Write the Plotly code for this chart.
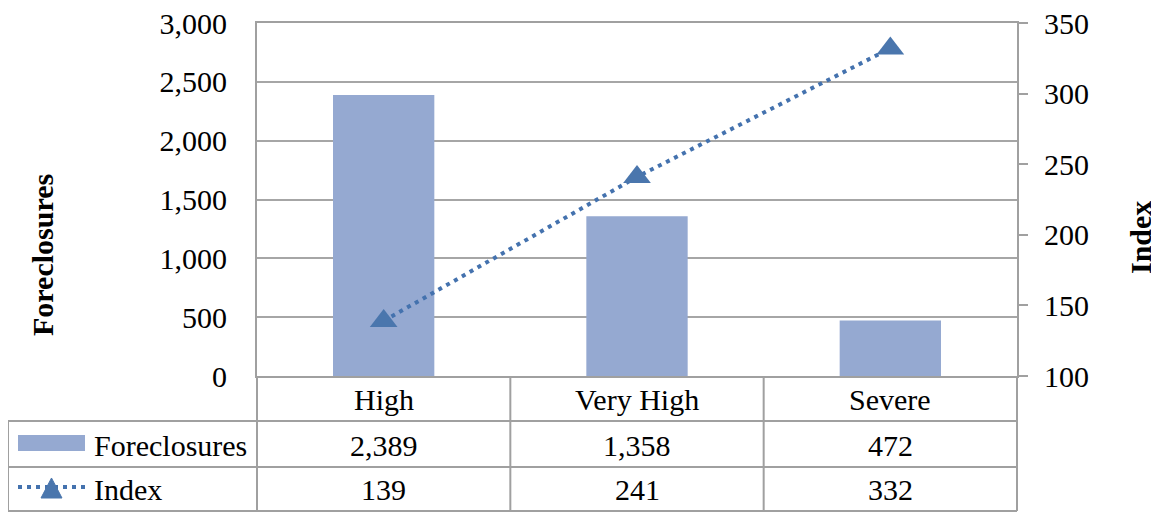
import plotly.graph_objects as go

categories = ["High", "Very High", "Severe"]
foreclosures = [2389, 1358, 472]
index_vals = [139, 241, 332]
y1_ticks = [0, 500, 1000, 1500, 2000, 2500, 3000]
y2_ticks = [100, 150, 200, 250, 300, 350]

FONT = "Liberation Serif"
FS = 30
GRID = "#A6A6A6"
TBL = "#A0A0A0"
BAR = "#95A9D1"
LINE = "#4472AE"
MARK = "#4A76AD"

OFF = 8  # page body margin
W, H = 1159 - OFF, 512 - OFF
# plot area in window pixels: x 257..1017, y 23..376
L = 257 - OFF
T = 23 - OFF
R = W - (1017 - OFF)
B = H - (376 - OFF)
pw, ph = W - L - R, H - T - B


def px(x):
    return (x - OFF - L) / pw


def py(y):
    return (H - B - (y - OFF)) / ph


fig = go.Figure()
fig.add_trace(go.Bar(x=categories, y=foreclosures, marker_color=BAR,
                     marker_line_width=0, width=0.4, name="Foreclosures",
                     yaxis="y"))
fig.add_trace(go.Scatter(x=categories, y=index_vals, yaxis="y2", mode="lines+markers",
                         line=dict(color=LINE, width=4, dash="4px,5px"),
                         marker=dict(symbol="triangle-up", size=24, color=MARK),
                         name="Index", cliponaxis=False))

shapes = []
for yy in [421, 467, 511]:
    shapes.append(dict(type="line", xref="paper", yref="paper", x0=px(8), x1=1,
                       y0=py(yy), y1=py(yy), line=dict(color=TBL, width=2)))
shapes.append(dict(type="line", xref="paper", yref="paper", x0=px(8), x1=px(8),
                   y0=py(421), y1=py(511), line=dict(color=TBL, width=2)))
for xx in [0, 1]:
    shapes.append(dict(type="line", xref="paper", yref="paper", x0=xx, x1=xx,
                       y0=0, y1=py(511), line=dict(color=TBL, width=2)))
for xv in [0.5, 1.5]:
    shapes.append(dict(type="line", xref="x", yref="paper", x0=xv, x1=xv,
                       y0=0, y1=py(511), line=dict(color=TBL, width=2)))

tf = dict(family=FONT, size=FS, color="black")
annotations = []


def ann(**kw):
    d = dict(showarrow=False, font=tf, xanchor="center", yanchor="middle")
    d.update(kw)
    annotations.append(d)


for i, c in enumerate(categories):
    ann(x=c, xref="x", y=py(399), yref="paper", text=c)
    ann(x=c, xref="x", y=py(445), yref="paper", text=f"{foreclosures[i]:,}")
    ann(x=c, xref="x", y=py(489), yref="paper", text=f"{index_vals[i]:,}")
ann(x=px(92), y=py(445), xref="paper", yref="paper", text="Foreclosures", xanchor="left")
ann(x=px(92), y=py(489), xref="paper", yref="paper", text="Index", xanchor="left")
ann(x=px(42), y=py(255), xref="paper", yref="paper", text="<b>Foreclosures</b>", textangle=-90)
ann(x=px(1140), y=py(238), xref="paper", yref="paper", text="<b>Index</b>", textangle=-90)

# legend keys in the data table
shapes.append(dict(type="rect", xref="paper", yref="paper", x0=px(18), x1=px(85),
                   y0=py(451), y1=py(435), fillcolor=BAR, line=dict(width=0)))
shapes.append(dict(type="line", xref="paper", yref="paper", x0=px(18), x1=px(85),
                   y0=py(487), y1=py(487), line=dict(color=LINE, width=4, dash="4px,5px")))
tri = "M {:.5f} {:.5f} L {:.5f} {:.5f} L {:.5f} {:.5f} Z".format(
    px(41), py(498), px(62), py(498), px(51.5), py(478))
shapes.append(dict(type="path", xref="paper", yref="paper", path=tri,
                   fillcolor=MARK, line=dict(color=MARK, width=1)))

fig.update_layout(
    width=W, height=H,
    margin=dict(l=L, r=R, t=T, b=B, autoexpand=False),
    paper_bgcolor="white", plot_bgcolor="white",
    showlegend=False,
    font=tf,
    xaxis=dict(type="category", showgrid=False, showline=True, linecolor=TBL, linewidth=2,
               mirror=True, ticks="", showticklabels=False, range=[-0.5, 2.5], fixedrange=True),
    yaxis=dict(range=[0, 3000], tickvals=y1_ticks, ticktext=[f"{v:,}" for v in y1_ticks],
               showgrid=True, gridcolor=GRID, gridwidth=1.5, showline=True, linecolor=TBL,
               linewidth=2, ticks="", zeroline=False, ticklabelstandoff=22,
               ticklabeloverflow="allow", tickfont=tf),
    yaxis2=dict(range=[100, 350], tickvals=y2_ticks, overlaying="y", side="right",
                showgrid=False, showline=True, linecolor=TBL, linewidth=2, ticks="outside",
                ticklen=9, tickcolor=TBL, tickwidth=1.5, zeroline=False, ticklabelstandoff=10,
                ticklabeloverflow="allow", tickfont=tf),
    shapes=shapes,
    annotations=annotations,
)

fig.write_html("out.html")
